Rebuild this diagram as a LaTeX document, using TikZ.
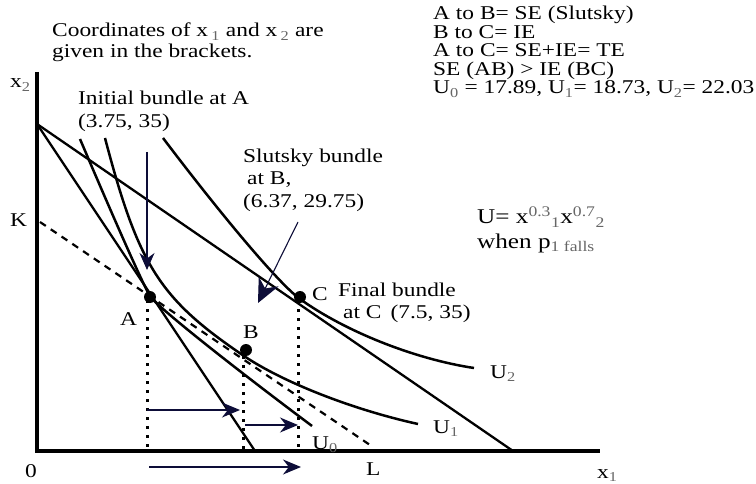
\documentclass[tikz,border=0pt]{standalone}
\usepackage{fontspec}
\setmainfont{Liberation Serif}[FakeStretch=1.2]
\usetikzlibrary{arrows.meta}
\definecolor{navy}{rgb}{0.05,0.05,0.22}
\newcommand\mysb[1]{\textsubscript{\color{black!60}#1}}
\newcommand\mysp[1]{\textsuperscript{\color{black!60}#1}}
\begin{document}
\begin{tikzpicture}[x=1pt,y=-1pt,
  lab/.style={inner sep=0pt, anchor=base west, font=\fontsize{19.5}{19.5}\selectfont},
  axisline/.style={line width=3.2pt},
  budget/.style={line width=2.3pt},
  icurve/.style={line width=2.5pt},
  dashline/.style={line width=2.2pt, dash pattern=on 7pt off 6pt},
  dotline/.style={line width=3pt, dash pattern=on 3pt off 6pt},
  harrow/.style={draw=navy, line width=1.3pt, -{Stealth[length=18pt,width=15pt]}},
  pointer/.style={draw=navy, line width=1.2pt, -{Stealth[length=17pt,width=15pt]}},
  bigpointer/.style={draw=navy, line width=1.1pt, -{Stealth[length=24pt,width=22pt]}},
  dotpt/.style={circle, fill=black, inner sep=0pt, minimum size=12pt}]
\useasboundingbox (0,0) rectangle (756,484);

% coordinates
\coordinate (top) at (37,72);
\coordinate (orig) at (37,451);
\coordinate (xend) at (600,451);
\coordinate (Y) at (37,124);
\coordinate (steepend) at (255,451);
\coordinate (flatend) at (513,451);
\coordinate (Kpt) at (40,222);
\coordinate (Lpt) at (373,447);
\coordinate (Apt) at (150,297);
\coordinate (Bpt) at (246,350);
\coordinate (Cpt) at (300,297);
\coordinate (Ad) at (147,300);
\coordinate (Ab) at (147,451);
\coordinate (Bd) at (243,356);
\coordinate (Bb) at (243,451);
\coordinate (Cd) at (298,300);
\coordinate (Cb) at (298,451);
\coordinate (h1s) at (147,410);
\coordinate (h1e) at (240,410);
\coordinate (h2s) at (245,425);
\coordinate (h2e) at (298,425);
\coordinate (h3s) at (149,467);
\coordinate (h3e) at (301,467);
\coordinate (ias) at (147,152);
\coordinate (iae) at (147,270);
\coordinate (sls) at (298,222);
\coordinate (sle) at (258,303);

% indifference curves
\draw[icurve] (80,139) .. controls (116.7,225.3) and (144.7,288.1) .. (150,296)
              .. controls (156.8,306.2) and (221.6,358.2) .. (312,426);
\draw[icurve] (105,138) .. controls (138.7,266.3) and (159.7,298.9) .. (244,356)
              .. controls (283,382.3) and (352.6,409.6) .. (418,424);
\draw[icurve] (163,138) .. controls (225.4,220.4) and (280.2,284.8) .. (300,299)
              .. controls (345.2,331.5) and (414.8,359.1) .. (474,368);

% budget lines
\draw[budget] (Y) -- (steepend);
\draw[budget] (Y) -- (flatend);
\draw[dashline] (Kpt) -- (Lpt);

% dotted drop lines
\draw[dotline] (Ad) -- (Ab);
\draw[dotline] (Bd) -- (Bb);
\draw[dotline] (Cd) -- (Cb);

% axes
\draw[axisline] (top) -- (orig) -- (xend);

% points
\node[dotpt] (A) at (Apt) {};
\node[dotpt] (B) at (Bpt) {};
\node[dotpt] (C) at (Cpt) {};

% arrows
\draw[harrow] (h1s) -- (h1e);
\draw[harrow] (h2s) -- (h2e);
\draw[harrow] (h3s) -- (h3e);
\draw[pointer] (ias) -- (iae);
\draw[bigpointer] (sls) -- (sle);

% labels
\node[lab] (coord1) at (52,37) {Coordinates of x\,\mysb{1} and x\,\mysb{2} are};
\node[lab] (coord2) at (52,58) {given in the brackets.};
\node[lab] (x2lab) at (10,88) {x\mysb{2}};
\node[lab] (Klab) at (10,227) {K};
\node[lab] (Olab) at (25,477) {0};
\node[lab] (Llab) at (366,475) {L};
\node[lab] (x1lab) at (597,478) {x\mysb{1}};
\node[lab] (init1) at (78,105) {Initial bundle at A};
\node[lab] (init2) at (78,128) {(3.75, 35)};
\node[lab] (sl1) at (243,163) {Slutsky bundle};
\node[lab] (sl2) at (247,185) {at B,};
\node[lab] (sl3) at (243,208) {(6.37, 29.75)};
\node[lab] (fin1) at (338,297) {Final bundle};
\node[lab] (fin2) at (343,318) {at C\, (7.5, 35)};
\node[lab] (Alab) at (120,325) {A};
\node[lab] (Blab) at (243,338) {B};
\node[lab] (Clab) at (312,300) {C};
\node[lab] (U0lab) at (312,449) {U\mysb{0}};
\node[lab] (U1lab) at (433,433) {U\mysb{1}};
\node[lab] (U2lab) at (490,378) {U\mysb{2}};
\node[lab] (r1) at (433,20) {A to B= SE (Slutsky)};
\node[lab] (r2) at (433,38.5) {B to C= IE};
\node[lab] (r3) at (433,57) {A to C= SE+IE= TE};
\node[lab] (r4) at (433,75.5) {SE (AB) > IE (BC)};
\node[lab] (r5) at (433,94) {U\mysb{0} = 17.89, U\mysb{1}= 18.73, U\mysb{2}= 22.03};
\node[lab, font=\fontsize{21}{21}\selectfont] (uform) at (477,224) {U= x\mysp{0.3}\mysb{1}x\mysp{0.7}\mysb{2}};
\node[lab, font=\fontsize{21}{21}\selectfont] (pfall) at (477,248) {when p\mysb{1 falls}};
\end{tikzpicture}
\end{document}
